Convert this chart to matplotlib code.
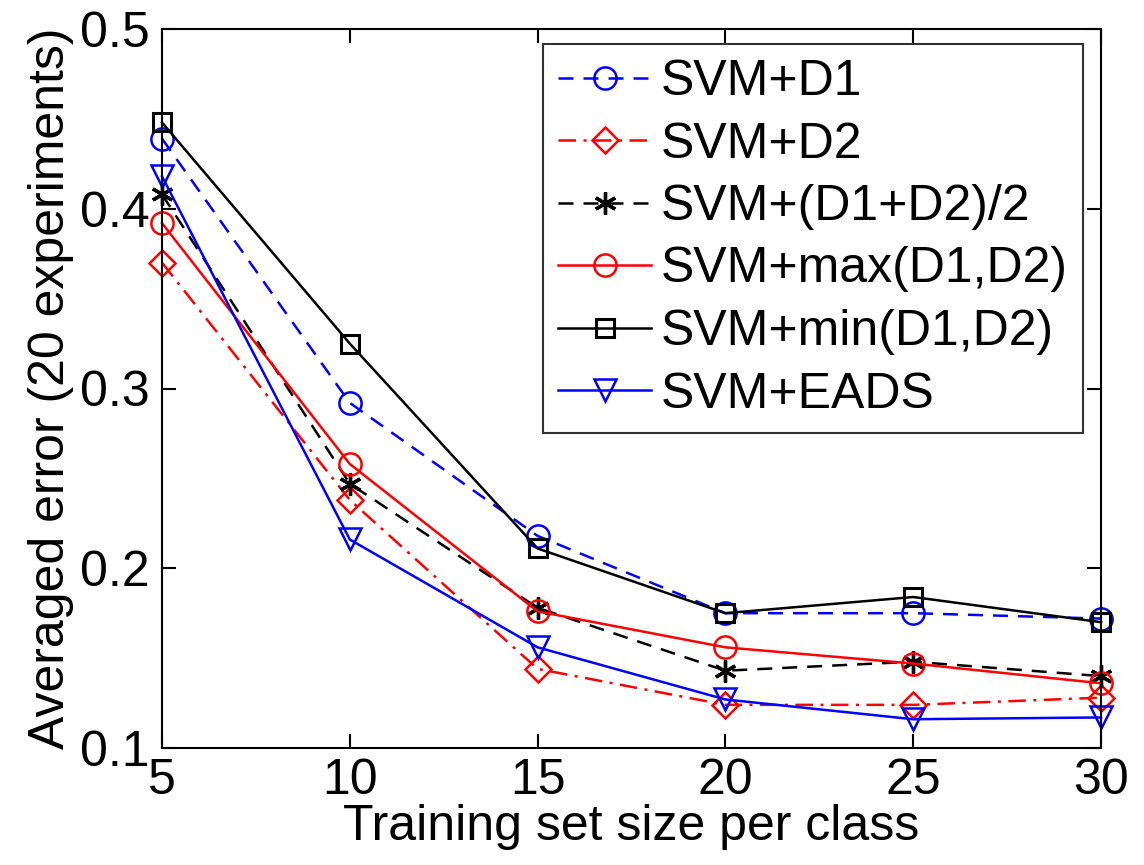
import matplotlib
matplotlib.use("Agg")
import matplotlib.pyplot as plt

x = [5, 10, 15, 20, 25, 30]
svm_d1 = [0.439, 0.292, 0.218, 0.175, 0.175, 0.172]
svm_d2 = [0.370, 0.238, 0.144, 0.124, 0.124, 0.128]
svm_avg = [0.408, 0.247, 0.178, 0.143, 0.148, 0.140]
svm_max = [0.392, 0.258, 0.176, 0.156, 0.147, 0.136]
svm_min = [0.448, 0.325, 0.211, 0.175, 0.184, 0.170]
svm_eads = [0.418, 0.216, 0.156, 0.127, 0.116, 0.117]

labels = ["SVM+D1", "SVM+D2", "SVM+(D1+D2)/2", "SVM+max(D1,D2)",
          "SVM+min(D1,D2)", "SVM+EADS"]
xticks = [5, 10, 15, 20, 25, 30]
yticks = [0.1, 0.2, 0.3, 0.4, 0.5]

plt.rcParams['font.family'] = ['Liberation Sans', 'DejaVu Sans']
FS = 36

fig = plt.figure(figsize=(11.44, 8.65), dpi=100)
ax = fig.add_axes([162/1144, 1 - 748/865, (1101-162)/1144, (748-29)/865])

lw = 1.8
common = dict(markerfacecolor='none', linewidth=lw, clip_on=False)
ax.plot(x, svm_d1, color='blue', linestyle=(0, (6, 4)), marker='o', markersize=16,
        markeredgewidth=lw, label=labels[0], **common)
ax.plot(x, svm_d2, color='red', linestyle=(0, (7, 3, 1.2, 3)), marker='D', markersize=13,
        markeredgewidth=lw, label=labels[1], **common)
ax.plot(x, svm_avg, color='black', linestyle=(0, (6, 4)), marker=(6, 2, 0), markersize=16,
        markeredgewidth=lw + 0.6, label=labels[2], **common)
ax.plot(x, svm_max, color='red', linestyle='-', marker='o', markersize=16,
        markeredgewidth=lw, label=labels[3], **common)
ax.plot(x, svm_min, color='black', linestyle='-', marker='s', markersize=13,
        markeredgewidth=lw + 0.4, label=labels[4], **common)
ax.plot(x, svm_eads, color='blue', linestyle='-', marker='v', markersize=16,
        markeredgewidth=lw, label=labels[5], **common)

ax.set_xlim(5, 30)
ax.set_ylim(0.1, 0.5)
ax.set_xticks(xticks)
ax.set_xticklabels([str(v) for v in xticks])
ax.set_yticks(yticks)
ax.set_yticklabels([f"{v:.1f}" for v in yticks])
ax.tick_params(direction='in', length=10, width=1.5, top=True, right=True,
               labelsize=FS)
ax.tick_params(axis='x', pad=7)
ax.tick_params(axis='y', pad=9)
for s in ax.spines.values():
    s.set_linewidth(1.5)

ax.set_xlabel("Training set size per class", fontsize=FS, labelpad=0)
ax.set_ylabel("Averaged error (20 experiments)", fontsize=FS, labelpad=4)

leg = ax.legend(loc='upper right', bbox_to_anchor=(1 - 18/939, 1 - 15/719),
                fontsize=FS, frameon=True, fancybox=False, edgecolor='black',
                handlelength=1.86, handletextpad=0.2, labelspacing=0.33,
                borderpad=0.3, borderaxespad=0)
leg.get_frame().set_linewidth(1.5)

fig.savefig("out.png", dpi=100)
